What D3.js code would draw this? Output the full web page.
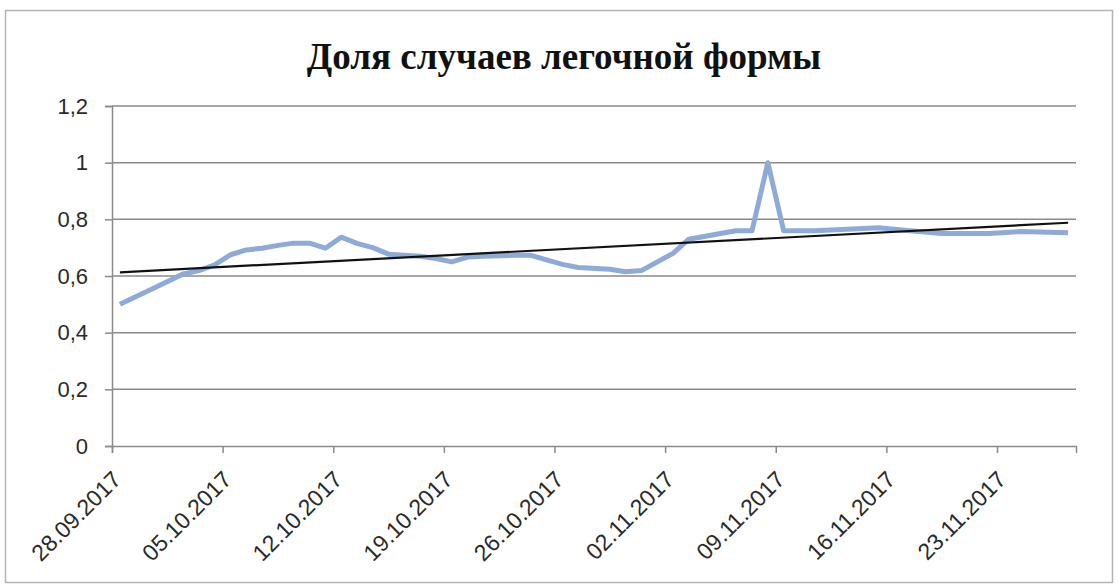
<!DOCTYPE html>
<html>
<head>
<meta charset="utf-8">
<script src="https://cdn.jsdelivr.net/npm/d3@7"></script>
<style>
  body { margin: 0; background: #fff; }
  svg { display: block; }
</style>
</head>
<body>
<div class="chart"></div>
<script>
// Chart values
const title = "Доля случаев легочной формы"

const dates = [
    "28.09.2017", "30.09.2017", "02.10.2017", "03.10.2017", "04.10.2017",
    "05.10.2017", "06.10.2017", "07.10.2017", "08.10.2017", "09.10.2017",
    "10.10.2017", "11.10.2017", "12.10.2017", "13.10.2017", "14.10.2017",
    "15.10.2017", "16.10.2017", "17.10.2017", "18.10.2017", "19.10.2017",
    "20.10.2017", "21.10.2017", "23.10.2017", "24.10.2017", "25.10.2017",
    "26.10.2017", "27.10.2017", "29.10.2017", "30.10.2017", "31.10.2017",
    "02.11.2017", "03.11.2017", "05.11.2017", "06.11.2017", "07.11.2017",
    "08.11.2017", "09.11.2017", "11.11.2017", "13.11.2017", "15.11.2017",
    "17.11.2017", "19.11.2017", "22.11.2017", "24.11.2017", "27.11.2017"
]

const shares = [
    0.50, 0.553, 0.607, 0.619, 0.639,
    0.675, 0.692, 0.698, 0.708, 0.716,
    0.716, 0.698, 0.737, 0.715, 0.70,
    0.677, 0.673, 0.67, 0.662, 0.65,
    0.667, 0.67, 0.673, 0.673, 0.657,
    0.641, 0.63, 0.624, 0.615, 0.619,
    0.68, 0.73, 0.75, 0.76, 0.76,
    1.0, 0.76, 0.76, 0.765, 0.77,
    0.76, 0.75, 0.75, 0.757, 0.753
]

// linear trend line, value at first and last date
const trendDates = ["28.09.2017", "27.11.2017"]
const trendVals = [0.613, 0.788]

const tickDates = [
    "28.09.2017", "05.10.2017", "12.10.2017", "19.10.2017", "26.10.2017",
    "02.11.2017", "09.11.2017", "16.11.2017", "23.11.2017"
]
const yTicks = [0, 0.2, 0.4, 0.6, 0.8, 1, 1.2]

const parse = d3.timeParse("%d.%m.%Y")
const fmtDate = d3.timeFormat("%d.%m.%Y")
// points sit in the middle of their day slot
const mid = d => d3.timeHour.offset(parse(d), 12)

const width = 1119
const height = 586

const svg = d3.select('.chart')
    .append('svg')
    .attr('width', width)
    .attr('height', height)

// outer frame
svg.append('rect')
    .attr('x', 5.5)
    .attr('y', 10.5)
    .attr('width', 1107)
    .attr('height', 572)
    .attr('fill', '#fff')
    .attr('stroke', '#b4b4b4')
    .attr('stroke-width', 1.5)

const x = d3.scaleTime()
    .domain([parse("28.09.2017"), parse("28.11.2017")])
    .range([112, 1076])

const y = d3.scaleLinear()
    .domain([0, 1.2])
    .range([446, 106])

// title
svg.append('text')
    .attr('x', 564)
    .attr('y', 69)
    .attr('text-anchor', 'middle')
    .style('font-family', '"Liberation Serif", "DejaVu Serif", serif')
    .style('font-weight', 'bold')
    .style('font-size', '37px')
    .style('fill', '#111')
    .text(title)

// gridlines
svg.append('g')
    .selectAll('line')
    .data(yTicks.filter(d => d > 0))
    .enter()
    .append('line')
    .attr('x1', 112)
    .attr('x2', 1076)
    .attr('y1', d => y(d))
    .attr('y2', d => y(d))
    .attr('stroke', '#8a8a8a')
    .attr('stroke-width', 1.5)

// y axis
const yAxis = svg.append('g')
    .attr('transform', 'translate(112,0)')
    .call(d3.axisLeft(y)
        .tickValues(yTicks)
        .tickSize(7)
        .tickPadding(17)
        .tickFormat(d => String(d).replace('.', ',')))

// x axis
const xAxis = svg.append('g')
    .attr('transform', 'translate(0,446)')
    .call(d3.axisBottom(x)
        .tickValues(tickDates.map(parse))
        .tickSize(7)
        .tickFormat(fmtDate))

svg.selectAll('.domain, .tick line')
    .attr('stroke', '#8a8a8a')
    .attr('stroke-width', 1.5)

svg.selectAll('.tick text')
    .style('font-family', '"Liberation Sans", Arial, sans-serif')
    .style('font-size', '22px')
    .style('fill', '#2a2a2a')

xAxis.selectAll('text')
    .attr('text-anchor', 'end')
    .attr('dy', null)
    .attr('y', null)
    .attr('transform', 'translate(10,35) rotate(-45)')
    .style('font-size', '23px')

// data line
const line = d3.line()
    .x(d => x(mid(d[0])))
    .y(d => y(d[1]))

svg.append('path')
    .datum(d3.zip(dates, shares))
    .attr('fill', 'none')
    .attr('stroke', '#8eaad9')
    .attr('stroke-width', 5)
    .attr('stroke-linejoin', 'round')
    .attr('d', line)

// trend line
svg.append('path')
    .datum(d3.zip(trendDates, trendVals))
    .attr('fill', 'none')
    .attr('stroke', '#111')
    .attr('stroke-width', 2.2)
    .attr('d', line)
</script>
</body>
</html>
